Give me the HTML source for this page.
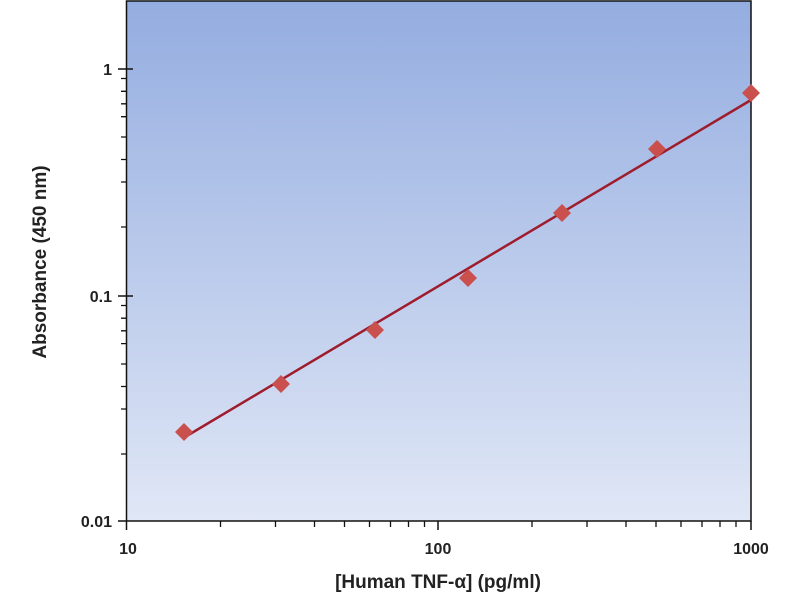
<!DOCTYPE html>
<html><head><style>body{margin:0;background:#fff}</style></head><body>
<svg width="800" height="600" xmlns="http://www.w3.org/2000/svg" font-family="Liberation Sans, sans-serif">
<defs><linearGradient id="g" x1="0" y1="0" x2="0" y2="1"><stop offset="0" stop-color="#94ade0"/><stop offset="1" stop-color="#e0e7f6"/></linearGradient></defs>
<rect x="126.5" y="1" width="624.5" height="520" fill="url(#g)" stroke="#111" stroke-width="1.5"/>
<g stroke="#111" stroke-width="1.5">
<line x1="118" y1="69" x2="133" y2="69"/><line x1="118" y1="296" x2="133" y2="296"/><line x1="118" y1="521" x2="126" y2="521"/>
<line x1="126.5" y1="521" x2="126.5" y2="530"/><line x1="438" y1="521" x2="438" y2="530"/><line x1="751" y1="521" x2="751" y2="530"/>
</g>
<g stroke="#111" stroke-width="1.3">
<path d="M121 78.5H126M121 91.3H126M121 103.8H126M121 116.7H126M121 137H126M121 159.5H126M121 182H126M121 227H126
M121 305.5H126M121 318.2H126M121 330.8H126M121 343.6H126M121 364H126M121 386.5H126M121 409H126M121 454H126"/>
<path d="M220.5 521V527M275.5 521V527M314.5 521V527M344.5 521V527M369.5 521V527M390.5 521V527M408.5 521V527M424.5 521V527
M532 521V527M587 521V527M626 521V527M656 521V527M681 521V527M702 521V527M720 521V527M736 521V527"/>
</g>
<g font-size="16" font-weight="bold" fill="#222" text-anchor="end">
<text x="112" y="75">1</text><text x="112" y="302">0.1</text><text x="112" y="527">0.01</text></g>
<g font-size="16" font-weight="bold" fill="#222" text-anchor="middle">
<text x="128" y="554">10</text><text x="438" y="554">100</text><text x="751" y="554">1000</text>
<text x="438" y="588" font-size="19">[Human TNF-α] (pg/ml)</text>
<text transform="translate(46,262) rotate(-90)" font-size="19">Absorbance (450 nm)</text></g>
<line x1="185" y1="437" x2="751" y2="100" stroke="#9e1c2c" stroke-width="2.5"/>
<g fill="#c9504c">
<path d="M184 423l9 9-9 9-9-9z"/><path d="M281 375l9 9-9 9-9-9z"/><path d="M375 321l9 9-9 9-9-9z"/><path d="M468 269l9 9-9 9-9-9z"/><path d="M562 204l9 9-9 9-9-9z"/><path d="M657 140l9 9-9 9-9-9z"/><path d="M751 84l9 9-9 9-9-9z"/>
</g>
</svg>
</body></html>
